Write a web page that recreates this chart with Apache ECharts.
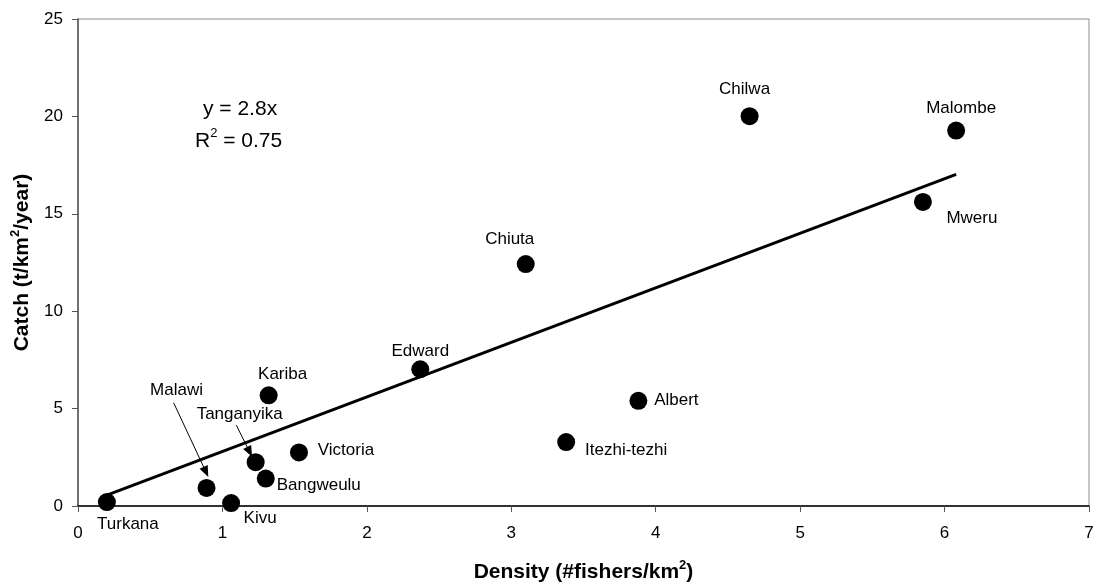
<!DOCTYPE html>
<html>
<head>
<meta charset="utf-8">
<script src="https://cdn.jsdelivr.net/npm/echarts@6/dist/echarts.min.js"></script>
<style>html,body{margin:0;padding:0;background:#fff;}#c{width:1093px;height:583px;}</style>
</head>
<body>
<div id="c"></div>
<script>
// ---- data ----
const lakes = ['Turkana','Malawi','Kivu','Tanganyika','Bangweulu','Kariba','Victoria','Edward','Chiuta','Itezhi-tezhi','Albert','Chilwa','Mweru','Malombe'];
const density = [0.20, 0.89, 1.06, 1.23, 1.30, 1.32, 1.53, 2.37, 3.10, 3.38, 3.88, 4.65, 5.85, 6.08];
const catchRate = [0.20, 0.93, 0.15, 2.25, 1.41, 5.68, 2.75, 7.02, 12.42, 3.28, 5.40, 20.01, 15.61, 19.27];
const trendSlope = 2.8;
const trendXRange = [0.2, 6.08];
const xTicks = [0, 1, 2, 3, 4, 5, 6, 7];
const yTicks = [0, 5, 10, 15, 20, 25];
// annotation arrows (data coords): [from, to]
const arrows = [
  [[0.662, 5.30], [0.886, 1.75]],
  [[1.096, 4.15], [1.188, 2.78]]
];
// ---- label placement (pixel offsets of label centre from point centre) ----
const labelOffsets = {
  'Turkana':[21,22],'Malawi':[-30,-98],'Kivu':[29,15],'Tanganyika':[-16,-48],
  'Bangweulu':[53,7],'Kariba':[14,-21],'Victoria':[47,-2],'Edward':[0,-18],
  'Chiuta':[-16,-25],'Itezhi-tezhi':[60,8],'Albert':[38,0],'Chilwa':[-5,-27],
  'Mweru':[49,16],'Malombe':[5,-22]
};

const FONT = 'Liberation Sans, Arial, sans-serif';
const chart = echarts.init(document.getElementById('c'), null, {renderer:'canvas'});

const scatterData = lakes.map((n,i)=>({
  name:n, value:[density[i], catchRate[i]],
  label:{offset: labelOffsets[n]}
}));

const titleRich = {
  a:{fontFamily:FONT, fontSize:21, fontWeight:'bold', color:'#000', lineHeight:24, verticalAlign:'bottom'},
  s:{fontFamily:FONT, fontSize:13, fontWeight:'bold', color:'#000', lineHeight:13, verticalAlign:'top'}
};
const eqRich = {
  a:{fontFamily:FONT, fontSize:21, color:'#000', lineHeight:25, verticalAlign:'bottom'},
  s:{fontFamily:FONT, fontSize:13, color:'#000', lineHeight:13, verticalAlign:'top'}
};

const option = {
  backgroundColor:'#fff',
  animation:false,
  grid:{left:78, right:4, top:19, bottom:77, show:true, borderColor:'#8c8c8c', borderWidth:1,
        backgroundColor:'transparent', containLabel:false, outerBoundsMode:'none'},
  xAxis:{
    type:'value', min:xTicks[0], max:xTicks[xTicks.length-1], interval:1,
    splitLine:{show:false},
    axisLine:{show:true, onZero:false, lineStyle:{color:'#000', width:1.5}},
    axisTick:{show:true, inside:false, length:6, lineStyle:{color:'#555'}},
    axisLabel:{color:'#000', fontFamily:FONT, fontSize:17, margin:19},
    name:'{a|Density (#fishers/km}{s|2}{a|)}',
    nameLocation:'middle', nameGap:53,
    nameTextStyle:{rich:titleRich}
  },
  yAxis:{
    type:'value', min:yTicks[0], max:yTicks[yTicks.length-1], interval:5,
    splitLine:{show:false},
    axisLine:{show:true, onZero:false, lineStyle:{color:'#555', width:1.5}},
    axisTick:{show:true, inside:false, length:6, lineStyle:{color:'#555'}},
    axisLabel:{color:'#000', fontFamily:FONT, fontSize:17, margin:15},
    name:'{a|Catch (t/km}{s|2}{a|/year)}',
    nameLocation:'middle', nameGap:42,
    nameTextStyle:{rich:titleRich}
  },
  graphic:[
    {type:'text', left:203, top:99, style:{text:'{a|y = 2.8x}', rich:eqRich}},
    {type:'text', left:195, top:127, style:{text:'{a|R}{s|2}{a| = 0.75}', rich:eqRich}}
  ],
  series:[
    {
      type:'line', data:trendXRange.map(x=>[x, trendSlope*x]),
      symbol:'none', lineStyle:{color:'#000', width:3}, z:2,
      markLine:{
        silent:true, symbol:['none','triangle'], symbolSize:[9,11],
        lineStyle:{color:'#000', width:1, type:'solid'},
        label:{show:false},
        data: arrows.map(a=>[{coord:a[0]},{coord:a[1]}])
      }
    },
    {
      type:'scatter', data:scatterData, symbol:'circle', symbolSize:18,
      itemStyle:{color:'#000', opacity:1}, z:3,
      label:{show:true, formatter:'{b}', position:'inside', align:'center', verticalAlign:'middle',
        color:'#000', fontFamily:FONT, fontSize:17}
    }
  ]
};
chart.setOption(option);
</script>
</body>
</html>
